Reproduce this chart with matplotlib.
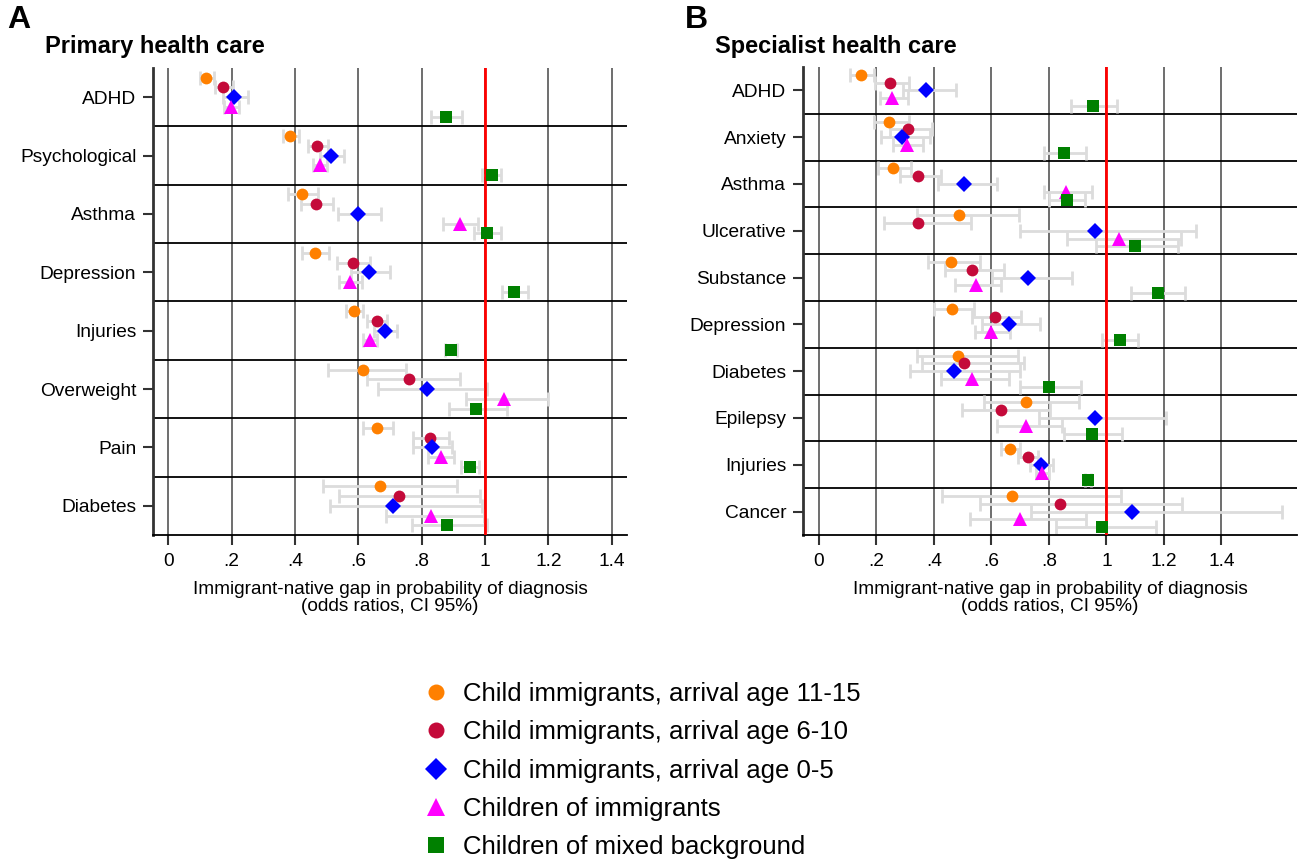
import matplotlib.pyplot as plt
from matplotlib.lines import Line2D

plt.rcParams['font.family'] = ['Liberation Sans', 'DejaVu Sans']

series_labels = ['Child immigrants, arrival age 11-15',
                 'Child immigrants, arrival age 6-10',
                 'Child immigrants, arrival age 0-5',
                 'Children of immigrants',
                 'Children of mixed background']

# Panel A: primary health care
prim_cats = ['ADHD', 'Psychological', 'Asthma', 'Depression', 'Injuries',
             'Overweight', 'Pain', 'Diabetes']
# odds ratios, one row per series (same order as series_labels)
prim_or = [
    [0.119, 0.385, 0.422, 0.462, 0.586, 0.616, 0.658, 0.668],
    [0.173, 0.471, 0.466, 0.582, 0.658, 0.761, 0.826, 0.727],
    [0.208, 0.515, 0.600, 0.635, 0.685, 0.816, 0.832, 0.709],
    [0.198, 0.478, 0.921, 0.574, 0.636, 1.061, 0.860, 0.828],
    [0.876, 1.021, 1.005, 1.092, 0.892, 0.971, 0.953, 0.879],
]
prim_lo = [
    [0.100, 0.361, 0.379, 0.423, 0.560, 0.505, 0.614, 0.489],
    [0.147, 0.442, 0.418, 0.534, 0.628, 0.628, 0.774, 0.539],
    [0.174, 0.479, 0.537, 0.576, 0.649, 0.661, 0.774, 0.511],
    [0.176, 0.458, 0.868, 0.539, 0.616, 0.939, 0.821, 0.687],
    [0.829, 0.989, 0.965, 1.053, 0.874, 0.886, 0.923, 0.768],
]
prim_hi = [
    [0.144, 0.413, 0.474, 0.507, 0.616, 0.751, 0.711, 0.911],
    [0.205, 0.503, 0.521, 0.637, 0.689, 0.921, 0.886, 0.984],
    [0.253, 0.555, 0.672, 0.700, 0.721, 1.007, 0.895, 0.989],
    [0.224, 0.500, 0.979, 0.613, 0.658, 1.200, 0.902, 0.998],
    [0.928, 1.049, 1.049, 1.137, 0.911, 1.068, 0.982, 1.007],
]

# Panel B: specialist health care
spec_cats = ['ADHD', 'Anxiety', 'Asthma', 'Ulcerative', 'Substance',
             'Depression', 'Diabetes', 'Epilepsy', 'Injuries', 'Cancer']
spec_or = [
    [0.145, 0.245, 0.257, 0.486, 0.460, 0.463, 0.484, 0.721, 0.664, 0.671],
    [0.246, 0.311, 0.345, 0.346, 0.531, 0.612, 0.504, 0.633, 0.727, 0.839],
    [0.373, 0.289, 0.506, 0.961, 0.729, 0.660, 0.469, 0.962, 0.772, 1.089],
    [0.255, 0.306, 0.859, 1.043, 0.548, 0.599, 0.532, 0.722, 0.776, 0.700],
    [0.952, 0.852, 0.862, 1.098, 1.178, 1.046, 0.800, 0.949, 0.935, 0.984],
]
spec_lo = [
    [0.110, 0.191, 0.206, 0.340, 0.378, 0.400, 0.340, 0.575, 0.635, 0.429],
    [0.195, 0.247, 0.282, 0.226, 0.440, 0.533, 0.360, 0.499, 0.693, 0.560],
    [0.293, 0.218, 0.415, 0.701, 0.603, 0.568, 0.316, 0.766, 0.733, 0.737],
    [0.212, 0.258, 0.782, 0.864, 0.475, 0.542, 0.426, 0.618, 0.754, 0.527],
    [0.876, 0.783, 0.800, 0.963, 1.087, 0.985, 0.699, 0.852, 0.925, 0.824],
]
spec_hi = [
    [0.191, 0.313, 0.322, 0.696, 0.560, 0.539, 0.691, 0.905, 0.699, 1.050],
    [0.313, 0.394, 0.424, 0.528, 0.643, 0.702, 0.713, 0.803, 0.762, 1.262],
    [0.476, 0.386, 0.620, 1.313, 0.882, 0.768, 0.699, 1.206, 0.815, 1.611],
    [0.311, 0.363, 0.949, 1.258, 0.633, 0.664, 0.662, 0.844, 0.800, 0.930],
    [1.037, 0.928, 0.925, 1.249, 1.275, 1.110, 0.913, 1.056, 0.946, 1.171],
]

xticks = [0, 0.2, 0.4, 0.6, 0.8, 1.0, 1.2, 1.4]
xtick_labels = ['0', '.2', '.4', '.6', '.8', '1', '1.2', '1.4']

colors = ['#FF8000', '#C40A3A', '#0000FF', '#FF00FF', '#008000']
markers = ['o', 'o', 'D', '^', 's']
msizes = [8.5, 8.5, 8, 10.5, 8.5]


def draw_panel(ax, cats, ors, los, his, xlim):
    n = len(cats)
    for x in xticks:
        ax.axvline(x, color='#555555', lw=1.2, zorder=0)
    for i in range(n - 1):
        ax.axhline(i + 0.5, color='black', lw=1.3, zorder=1)
    for k in range(5):
        ys = [i + (k - 2) / 6 for i in range(n)]
        err = [[o - l for o, l in zip(ors[k], los[k])],
               [h - o for o, h in zip(ors[k], his[k])]]
        ax.errorbar(ors[k], ys, xerr=err, fmt='none', ecolor='#DCDCDC',
                    elinewidth=2, capsize=5, capthick=2, zorder=2)
    ax.axvline(1, color='#FF0000', lw=2, zorder=3)
    for k in range(5):
        ys = [i + (k - 2) / 6 for i in range(n)]
        ax.plot(ors[k], ys, linestyle='none', marker=markers[k],
                markersize=msizes[k], color=colors[k], markeredgewidth=0,
                zorder=4)
    ax.set_ylim(n - 0.5, -0.5)
    ax.set_xlim(*xlim)
    ax.set_yticks(range(n))
    ax.set_yticklabels(cats, fontsize=13.8)
    ax.set_xticks(xticks)
    ax.set_xticklabels(xtick_labels, fontsize=13.8)
    ax.tick_params(axis='both', direction='out', length=7, width=1.5,
                   color='#333333', pad=5)
    ax.tick_params(axis='x', pad=6)
    for s in ['top', 'right']:
        ax.spines[s].set_visible(False)
    ax.spines['left'].set_color('#333333')
    ax.spines['left'].set_linewidth(2)
    ax.spines['bottom'].set_color('black')
    ax.spines['bottom'].set_linewidth(1.3)
    ax.set_xlabel('Immigrant-native gap in probability of diagnosis\n(odds ratios, CI 95%)',
                  fontsize=13.7, labelpad=8, linespacing=0.95)


fig = plt.figure(figsize=(13.05, 8.59), dpi=100)
axA = fig.add_axes([153 / 1305, 1 - 535 / 859, 474 / 1305, 467 / 859])
axB = fig.add_axes([803 / 1305, 1 - 535 / 859, 494 / 1305, 468 / 859])

draw_panel(axA, prim_cats, prim_or, prim_lo, prim_hi, (-0.048, 1.448))
draw_panel(axB, spec_cats, spec_or, spec_lo, spec_hi, (-0.055, 1.663))

fig.text(7 / 1305, 1 - 20 / 859, 'A', fontsize=23, fontweight='bold', va='center')
fig.text(45 / 1305, 1 - 47 / 859, 'Primary health care', fontsize=17,
         fontweight='bold', va='center')
fig.text(685 / 1305, 1 - 20 / 859, 'B', fontsize=23, fontweight='bold', va='center')
fig.text(715 / 1305, 1 - 47 / 859, 'Specialist health care', fontsize=17,
         fontweight='bold', va='center')

handles = [Line2D([], [], linestyle='none', marker=markers[k], markersize=msizes[k] + 3,
                  color=colors[k], markeredgewidth=0) for k in range(5)]
fig.legend(handles, series_labels, loc='upper left',
           bbox_to_anchor=(410 / 1305, 1 - 669 / 859), frameon=False,
           fontsize=18.5, handlelength=1.0, handletextpad=0.55, labelspacing=0.56,
           borderpad=0)

fig.savefig('out.png', dpi=100)
